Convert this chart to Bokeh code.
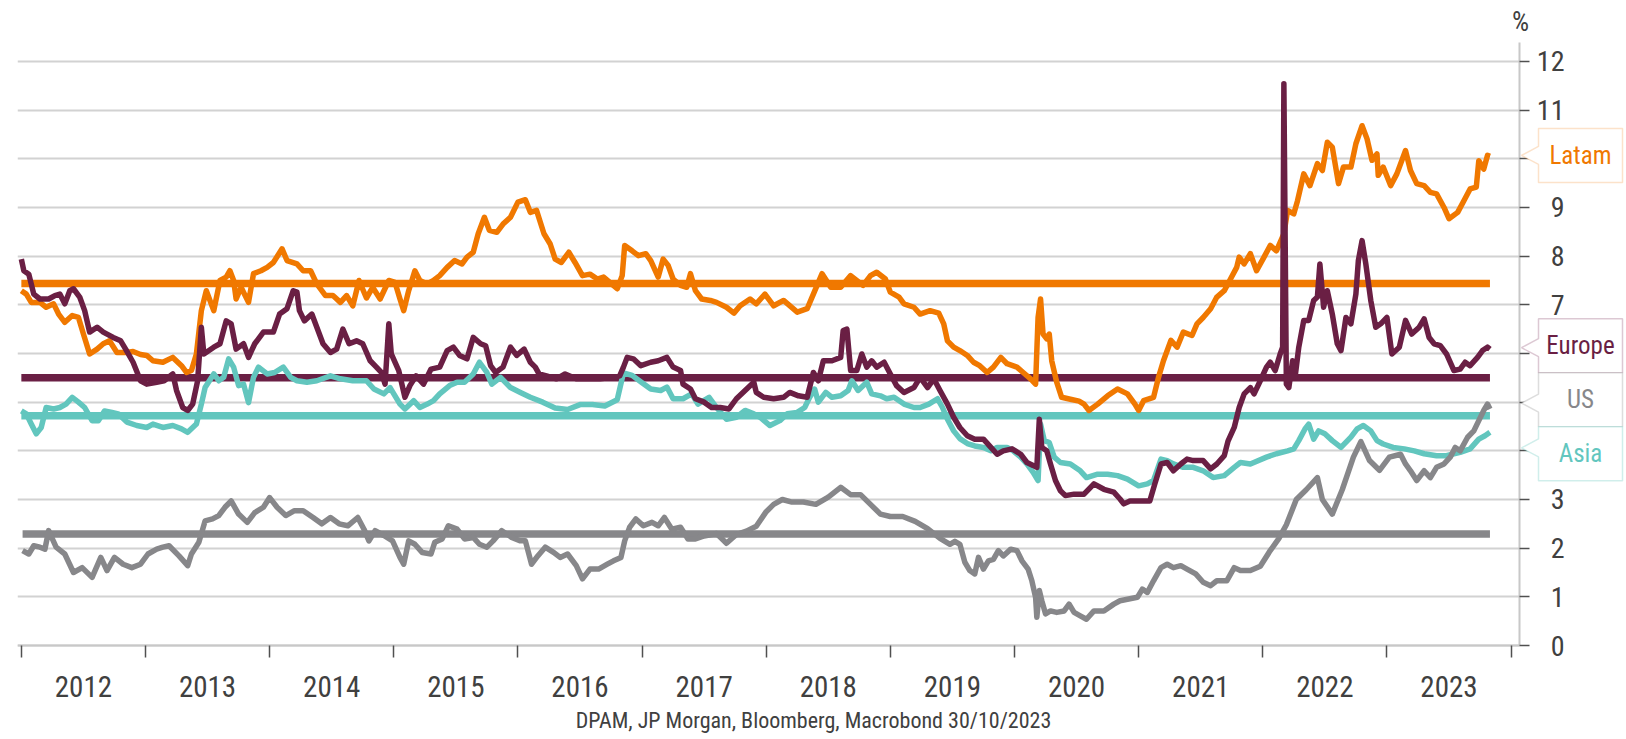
from bokeh.plotting import figure
from bokeh.models import FixedTicker, Label, PolyAnnotation, Range1d, LinearAxis, Grid
from bokeh.embed import file_html
from bokeh.resources import INLINE

# ---------------- data (decimal years, % yield) ----------------
latam_t = [2012.00, 2012.04, 2012.08, 2012.15, 2012.20, 2012.26, 2012.30, 2012.35, 2012.41, 2012.46,
           2012.50, 2012.55, 2012.61, 2012.66, 2012.71, 2012.77, 2012.85, 2012.90, 2012.96, 2013.01,
           2013.06, 2013.14, 2013.22, 2013.29, 2013.33, 2013.37, 2013.41, 2013.45, 2013.49, 2013.55,
           2013.60, 2013.65, 2013.68, 2013.71, 2013.73, 2013.77, 2013.83, 2013.87, 2013.93, 2013.98,
           2014.03, 2014.10, 2014.14, 2014.22, 2014.27, 2014.33, 2014.38, 2014.45, 2014.51, 2014.57,
           2014.62, 2014.67, 2014.72, 2014.78, 2014.83, 2014.89, 2014.96, 2015.01, 2015.05, 2015.08,
           2015.12, 2015.17, 2015.21, 2015.27, 2015.32, 2015.37, 2015.43, 2015.49, 2015.55, 2015.59,
           2015.64, 2015.68, 2015.73, 2015.77, 2015.83, 2015.88, 2015.94, 2015.96, 2016.00, 2016.06,
           2016.10, 2016.15, 2016.21, 2016.26, 2016.30, 2016.35, 2016.41, 2016.46, 2016.52, 2016.58,
           2016.64, 2016.69, 2016.74, 2016.80, 2016.84, 2016.86, 2016.92, 2016.97, 2017.03, 2017.07,
           2017.13, 2017.17, 2017.21, 2017.25, 2017.31, 2017.36, 2017.39, 2017.43, 2017.48, 2017.55,
           2017.60, 2017.68, 2017.74, 2017.79, 2017.87, 2017.92, 2017.99, 2018.06, 2018.14, 2018.25,
           2018.33, 2018.38, 2018.45, 2018.52, 2018.60, 2018.68, 2018.78, 2018.84, 2018.89, 2018.96,
           2019.00, 2019.07, 2019.11, 2019.19, 2019.24, 2019.32, 2019.39, 2019.43, 2019.46, 2019.51,
           2019.56, 2019.62, 2019.67, 2019.72, 2019.78, 2019.83, 2019.89, 2019.94, 2020.02, 2020.07,
           2020.13, 2020.17, 2020.19, 2020.21, 2020.23, 2020.26, 2020.28, 2020.30, 2020.34, 2020.38,
           2020.45, 2020.52, 2020.56, 2020.60, 2020.67, 2020.75, 2020.83, 2020.91, 2020.97, 2021.00,
           2021.04, 2021.12, 2021.16, 2021.20, 2021.26, 2021.31, 2021.36, 2021.43, 2021.47, 2021.52,
           2021.58, 2021.63, 2021.69, 2021.74, 2021.79, 2021.81, 2021.85, 2021.90, 2021.95, 2022.01,
           2022.06, 2022.11, 2022.17, 2022.20, 2022.25, 2022.28, 2022.33, 2022.38, 2022.44, 2022.48,
           2022.52, 2022.56, 2022.61, 2022.65, 2022.71, 2022.75, 2022.80, 2022.84, 2022.88, 2022.92,
           2022.93, 2022.97, 2023.03, 2023.08, 2023.15, 2023.19, 2023.24, 2023.30, 2023.35, 2023.40,
           2023.46, 2023.50, 2023.57, 2023.62, 2023.67, 2023.72, 2023.74, 2023.78, 2023.81, 2023.83]
latam_v = [7.29, 7.22, 7.05, 7.05, 6.95, 7.02, 6.81, 6.64, 6.78, 6.74,
           6.40, 5.99, 6.09, 6.20, 6.26, 6.02, 6.02, 6.04, 5.98, 5.96,
           5.85, 5.82, 5.92, 5.75, 5.61, 5.65, 5.99, 6.88, 7.29, 6.88,
           7.50, 7.57, 7.70, 7.50, 7.12, 7.36, 7.05, 7.64, 7.70, 7.77,
           7.87, 8.15, 7.91, 7.84, 7.70, 7.70, 7.43, 7.19, 7.19, 7.05,
           7.19, 6.98, 7.50, 7.14, 7.36, 7.12, 7.50, 7.46, 7.12, 6.88,
           7.29, 7.70, 7.50, 7.43, 7.50, 7.60, 7.77, 7.91, 7.84, 7.98,
           8.08, 8.46, 8.80, 8.53, 8.49, 8.66, 8.80, 8.90, 9.11, 9.16,
           8.90, 8.94, 8.46, 8.25, 7.94, 7.87, 8.08, 7.87, 7.60, 7.63,
           7.53, 7.57, 7.46, 7.33, 7.60, 8.22, 8.11, 8.01, 8.05, 7.91,
           7.57, 7.94, 7.81, 7.53, 7.40, 7.36, 7.64, 7.29, 7.12, 7.09,
           7.05, 6.95, 6.83, 6.98, 7.12, 7.02, 7.22, 6.98, 7.09, 6.85,
           6.92, 7.22, 7.64, 7.36, 7.36, 7.60, 7.40, 7.60, 7.67, 7.53,
           7.26, 7.16, 7.02, 6.95, 6.81, 6.88, 6.83, 6.61, 6.26, 6.13,
           6.06, 5.96, 5.82, 5.75, 5.61, 5.72, 5.92, 5.79, 5.72, 5.61,
           5.48, 5.37, 6.74, 7.12, 6.40, 6.30, 6.40, 5.85, 5.41, 5.10,
           5.06, 5.02, 4.96, 4.83, 4.96, 5.13, 5.27, 5.17, 4.96, 4.83,
           5.03, 5.10, 5.51, 5.85, 6.27, 6.13, 6.44, 6.37, 6.61, 6.74,
           6.92, 7.16, 7.29, 7.53, 7.77, 7.98, 7.84, 8.05, 7.70, 7.98,
           8.22, 8.11, 8.46, 8.94, 8.87, 9.14, 9.69, 9.45, 9.90, 9.76,
           10.34, 10.24, 9.49, 9.83, 9.83, 10.31, 10.68, 10.41, 9.97, 10.10,
           9.66, 9.83, 9.45, 9.69, 10.17, 9.76, 9.49, 9.45, 9.31, 9.28,
           9.00, 8.77, 8.90, 9.14, 9.38, 9.42, 9.96, 9.79, 10.07, 10.05]

europe_t = [2012.00, 2012.02, 2012.06, 2012.10, 2012.15, 2012.22, 2012.27, 2012.31, 2012.35, 2012.39,
            2012.42, 2012.47, 2012.51, 2012.55, 2012.61, 2012.66, 2012.74, 2012.80, 2012.84, 2012.90,
            2012.96, 2013.01, 2013.09, 2013.15, 2013.22, 2013.25, 2013.30, 2013.34, 2013.38, 2013.42,
            2013.45, 2013.47, 2013.55, 2013.60, 2013.65, 2013.69, 2013.73, 2013.79, 2013.83, 2013.88,
            2013.95, 2014.03, 2014.08, 2014.14, 2014.19, 2014.22, 2014.24, 2014.28, 2014.34, 2014.38,
            2014.43, 2014.49, 2014.54, 2014.59, 2014.64, 2014.70, 2014.75, 2014.81, 2014.86, 2014.90,
            2014.93, 2014.96, 2014.98, 2015.04, 2015.09, 2015.13, 2015.18, 2015.24, 2015.30, 2015.37,
            2015.43, 2015.48, 2015.53, 2015.59, 2015.64, 2015.70, 2015.74, 2015.78, 2015.82, 2015.88,
            2015.94, 2015.99, 2016.05, 2016.10, 2016.14, 2016.17, 2016.23, 2016.31, 2016.38, 2016.47,
            2016.56, 2016.66, 2016.77, 2016.82, 2016.85, 2016.88, 2016.93, 2016.99, 2017.07, 2017.13,
            2017.20, 2017.25, 2017.31, 2017.33, 2017.39, 2017.43, 2017.50, 2017.56, 2017.63, 2017.70,
            2017.76, 2017.83, 2017.90, 2017.92, 2017.98, 2018.06, 2018.14, 2018.19, 2018.26, 2018.33,
            2018.38, 2018.42, 2018.46, 2018.53, 2018.60, 2018.62, 2018.65, 2018.68, 2018.73, 2018.77,
            2018.81, 2018.85, 2018.89, 2018.95, 2019.00, 2019.05, 2019.11, 2019.19, 2019.24, 2019.30,
            2019.35, 2019.40, 2019.46, 2019.51, 2019.56, 2019.62, 2019.68, 2019.75, 2019.81, 2019.86,
            2019.91, 2019.98, 2020.05, 2020.10, 2020.15, 2020.18, 2020.20, 2020.22, 2020.26, 2020.29,
            2020.33, 2020.37, 2020.41, 2020.48, 2020.56, 2020.64, 2020.72, 2020.80, 2020.85, 2020.88,
            2020.93, 2021.01, 2021.09, 2021.13, 2021.18, 2021.23, 2021.28, 2021.34, 2021.39, 2021.44,
            2021.52, 2021.58, 2021.63, 2021.69, 2021.72, 2021.77, 2021.81, 2021.85, 2021.90, 2021.93,
            2021.98, 2022.03, 2022.06, 2022.10, 2022.14, 2022.16, 2022.17, 2022.19, 2022.21, 2022.24,
            2022.26, 2022.29, 2022.33, 2022.37, 2022.41, 2022.44, 2022.46, 2022.49, 2022.52, 2022.56,
            2022.60, 2022.63, 2022.67, 2022.71, 2022.75, 2022.77, 2022.80, 2022.83, 2022.87, 2022.91,
            2022.95, 2023.00, 2023.04, 2023.10, 2023.15, 2023.20, 2023.26, 2023.30, 2023.34, 2023.38,
            2023.43, 2023.48, 2023.54, 2023.59, 2023.63, 2023.67, 2023.73, 2023.77, 2023.81, 2023.83]
europe_v = [7.94, 7.70, 7.63, 7.22, 7.12, 7.12, 7.19, 7.22, 7.02, 7.29,
            7.33, 7.16, 6.88, 6.44, 6.54, 6.44, 6.33, 6.26, 6.09, 5.82,
            5.44, 5.37, 5.41, 5.44, 5.58, 5.24, 4.89, 4.83, 4.96, 5.44,
            6.54, 5.99, 6.13, 6.20, 6.67, 6.61, 6.09, 6.20, 5.92, 6.20,
            6.44, 6.44, 6.81, 6.92, 7.29, 7.26, 6.88, 6.67, 6.81, 6.54,
            6.20, 6.02, 6.09, 6.50, 6.20, 6.26, 6.20, 5.85, 5.72, 5.61,
            5.37, 6.61, 5.99, 5.65, 5.10, 5.34, 5.54, 5.37, 5.68, 5.72,
            6.06, 6.13, 5.96, 5.89, 6.33, 6.20, 6.16, 5.75, 5.61, 5.72,
            6.13, 5.96, 6.09, 5.82, 5.72, 5.58, 5.54, 5.48, 5.58, 5.48,
            5.48, 5.48, 5.51, 5.54, 5.72, 5.92, 5.89, 5.75, 5.82, 5.85,
            5.92, 5.72, 5.65, 5.37, 5.27, 5.07, 5.00, 4.89, 4.89, 4.86,
            5.07, 5.24, 5.41, 5.20, 5.10, 5.07, 5.10, 5.20, 5.13, 5.10,
            5.61, 5.44, 5.85, 5.85, 5.92, 6.47, 6.50, 5.65, 5.65, 5.99,
            5.72, 5.85, 5.72, 5.82, 5.58, 5.34, 5.20, 5.30, 5.51, 5.30,
            5.48, 5.24, 4.96, 4.69, 4.48, 4.31, 4.24, 4.24, 4.07, 3.93,
            4.00, 4.04, 3.93, 3.76, 3.70, 3.66, 4.65, 4.07, 4.00, 3.73,
            3.39, 3.18, 3.08, 3.11, 3.11, 3.32, 3.21, 3.15, 3.01, 2.91,
            2.97, 2.97, 2.97, 3.32, 3.73, 3.76, 3.59, 3.73, 3.83, 3.80,
            3.80, 3.63, 3.73, 3.90, 4.20, 4.48, 4.89, 5.17, 5.30, 5.17,
            5.44, 5.72, 5.82, 5.65, 5.99, 6.13, 11.54, 5.37, 5.30, 5.85,
            5.51, 6.13, 6.68, 6.68, 7.09, 7.16, 7.84, 6.95, 7.29, 6.81,
            6.20, 6.06, 6.74, 6.61, 7.22, 7.91, 8.32, 7.84, 7.09, 6.54,
            6.61, 6.74, 5.99, 6.13, 6.68, 6.40, 6.54, 6.71, 6.33, 6.20,
            6.16, 5.99, 5.65, 5.68, 5.82, 5.75, 5.92, 6.06, 6.13, 6.09]

us_t = [2012.01, 2012.06, 2012.10, 2012.15, 2012.19, 2012.22, 2012.28, 2012.35, 2012.42, 2012.49,
        2012.57, 2012.64, 2012.69, 2012.75, 2012.82, 2012.89, 2012.96, 2013.02, 2013.09, 2013.14,
        2013.19, 2013.27, 2013.34, 2013.37, 2013.43, 2013.48, 2013.54, 2013.59, 2013.64, 2013.69,
        2013.75, 2013.82, 2013.88, 2013.95, 2014.00, 2014.06, 2014.13, 2014.20, 2014.27, 2014.35,
        2014.42, 2014.49, 2014.56, 2014.63, 2014.71, 2014.76, 2014.80, 2014.85, 2014.92, 2014.99,
        2015.05, 2015.08, 2015.12, 2015.17, 2015.23, 2015.30, 2015.33, 2015.39, 2015.44, 2015.51,
        2015.57, 2015.64, 2015.69, 2015.75, 2015.80, 2015.87, 2015.95, 2016.02, 2016.06, 2016.11,
        2016.16, 2016.22, 2016.29, 2016.34, 2016.40, 2016.47, 2016.52, 2016.58, 2016.65, 2016.72,
        2016.77, 2016.83, 2016.86, 2016.90, 2016.95, 2017.01, 2017.08, 2017.13, 2017.18, 2017.24,
        2017.31, 2017.37, 2017.43, 2017.50, 2017.60, 2017.68, 2017.76, 2017.84, 2017.92, 2018.00,
        2018.06, 2018.13, 2018.20, 2018.30, 2018.40, 2018.50, 2018.60, 2018.68, 2018.76, 2018.84,
        2018.92, 2019.00, 2019.10, 2019.20, 2019.30, 2019.40, 2019.48, 2019.52, 2019.56, 2019.60,
        2019.64, 2019.68, 2019.71, 2019.75, 2019.79, 2019.83, 2019.87, 2019.91, 2019.97, 2020.02,
        2020.06, 2020.11, 2020.14, 2020.17, 2020.18, 2020.20, 2020.22, 2020.25, 2020.29, 2020.34,
        2020.40, 2020.44, 2020.48, 2020.53, 2020.58, 2020.64, 2020.72, 2020.80, 2020.85, 2020.91,
        2020.99, 2021.03, 2021.07, 2021.12, 2021.18, 2021.23, 2021.28, 2021.34, 2021.39, 2021.46,
        2021.52, 2021.58, 2021.63, 2021.71, 2021.77, 2021.82, 2021.90, 2021.98, 2022.06, 2022.13,
        2022.19, 2022.27, 2022.35, 2022.44, 2022.48, 2022.56, 2022.64, 2022.73, 2022.79, 2022.86,
        2022.94, 2023.02, 2023.11, 2023.15, 2023.19, 2023.24, 2023.30, 2023.35, 2023.40, 2023.46,
        2023.51, 2023.55, 2023.59, 2023.65, 2023.70, 2023.74, 2023.78, 2023.81, 2023.83]
us_v = [1.95, 1.88, 2.05, 2.02, 1.98, 2.36, 2.02, 1.88, 1.50, 1.60,
        1.40, 1.81, 1.54, 1.81, 1.67, 1.60, 1.67, 1.88, 1.98, 2.02,
        2.05, 1.84, 1.64, 1.88, 2.12, 2.56, 2.60, 2.67, 2.84, 2.97,
        2.70, 2.53, 2.73, 2.84, 3.04, 2.84, 2.67, 2.77, 2.77, 2.63,
        2.50, 2.63, 2.50, 2.46, 2.63, 2.39, 2.15, 2.36, 2.26, 2.15,
        1.81, 1.67, 2.15, 2.08, 1.91, 1.88, 2.12, 2.19, 2.46, 2.39,
        2.19, 2.22, 2.08, 2.02, 2.15, 2.36, 2.22, 2.15, 2.15, 1.67,
        1.84, 2.02, 1.91, 1.81, 1.88, 1.64, 1.37, 1.57, 1.57, 1.67,
        1.74, 1.81, 2.15, 2.43, 2.60, 2.46, 2.53, 2.46, 2.63, 2.39,
        2.43, 2.19, 2.19, 2.25, 2.30, 2.10, 2.28, 2.35, 2.45, 2.75,
        2.90, 3.00, 2.95, 2.95, 2.90, 3.05, 3.25, 3.10, 3.10, 2.90,
        2.70, 2.65, 2.65, 2.55, 2.40, 2.20, 2.08, 2.14, 2.08, 1.71,
        1.54, 1.47, 1.81, 1.57, 1.74, 1.77, 1.95, 1.84, 1.98, 1.95,
        1.74, 1.57, 1.33, 0.99, 0.58, 1.13, 0.92, 0.65, 0.71, 0.68,
        0.71, 0.85, 0.68, 0.61, 0.54, 0.71, 0.71, 0.85, 0.92, 0.95,
        0.99, 1.16, 1.09, 1.33, 1.60, 1.67, 1.60, 1.64, 1.57, 1.47,
        1.30, 1.23, 1.33, 1.33, 1.60, 1.54, 1.54, 1.63, 1.95, 2.20,
        2.48, 3.00, 3.20, 3.45, 3.00, 2.70, 3.20, 3.87, 4.19, 3.80,
        3.60, 3.87, 3.93, 3.73, 3.59, 3.39, 3.59, 3.45, 3.66, 3.73,
        3.87, 4.07, 4.00, 4.28, 4.41, 4.62, 4.83, 4.96, 4.86]

asia_t = [2012.00, 2012.04, 2012.08, 2012.12, 2012.16, 2012.20, 2012.26, 2012.31, 2012.36, 2012.41,
          2012.46, 2012.51, 2012.57, 2012.62, 2012.67, 2012.73, 2012.78, 2012.85, 2012.93, 2013.01,
          2013.06, 2013.14, 2013.22, 2013.29, 2013.34, 2013.41, 2013.45, 2013.48, 2013.55, 2013.59,
          2013.63, 2013.67, 2013.71, 2013.75, 2013.79, 2013.83, 2013.87, 2013.91, 2013.98, 2014.04,
          2014.11, 2014.17, 2014.22, 2014.30, 2014.38, 2014.49, 2014.57, 2014.67, 2014.78, 2014.84,
          2014.92, 2014.97, 2015.05, 2015.09, 2015.16, 2015.21, 2015.27, 2015.32, 2015.37, 2015.45,
          2015.51, 2015.57, 2015.64, 2015.69, 2015.75, 2015.79, 2015.86, 2015.94, 2016.02, 2016.10,
          2016.20, 2016.30, 2016.40, 2016.50, 2016.60, 2016.70, 2016.80, 2016.85, 2016.92, 2017.00,
          2017.07, 2017.15, 2017.20, 2017.25, 2017.33, 2017.40, 2017.45, 2017.54, 2017.60, 2017.68,
          2017.76, 2017.83, 2017.90, 2017.95, 2018.03, 2018.11, 2018.17, 2018.25, 2018.31, 2018.35,
          2018.39, 2018.42, 2018.48, 2018.53, 2018.60, 2018.66, 2018.69, 2018.74, 2018.81, 2018.85,
          2018.92, 2018.97, 2019.03, 2019.11, 2019.19, 2019.24, 2019.31, 2019.38, 2019.42, 2019.46,
          2019.51, 2019.56, 2019.62, 2019.68, 2019.75, 2019.81, 2019.86, 2019.94, 2019.99, 2020.05,
          2020.10, 2020.15, 2020.19, 2020.21, 2020.24, 2020.28, 2020.32, 2020.37, 2020.45, 2020.53,
          2020.58, 2020.67, 2020.75, 2020.83, 2020.91, 2021.00, 2021.07, 2021.12, 2021.18, 2021.23,
          2021.28, 2021.36, 2021.44, 2021.52, 2021.60, 2021.69, 2021.77, 2021.82, 2021.90, 2022.03,
          2022.11, 2022.20, 2022.25, 2022.29, 2022.34, 2022.37, 2022.41, 2022.45, 2022.50, 2022.56,
          2022.63, 2022.71, 2022.76, 2022.81, 2022.87, 2022.92, 2022.97, 2023.05, 2023.14, 2023.22,
          2023.30, 2023.40, 2023.48, 2023.59, 2023.67, 2023.74, 2023.79, 2023.83]
asia_v = [4.82, 4.76, 4.55, 4.35, 4.48, 4.89, 4.86, 4.89, 4.96, 5.10,
          5.00, 4.89, 4.62, 4.62, 4.82, 4.79, 4.76, 4.59, 4.52, 4.48,
          4.55, 4.48, 4.52, 4.45, 4.38, 4.55, 4.96, 5.30, 5.58, 5.44,
          5.51, 5.89, 5.72, 5.34, 5.37, 4.99, 5.51, 5.72, 5.58, 5.61,
          5.72, 5.51, 5.44, 5.41, 5.44, 5.54, 5.48, 5.44, 5.44, 5.27,
          5.17, 5.30, 4.96, 4.86, 5.03, 4.89, 4.96, 5.03, 5.17, 5.34,
          5.41, 5.41, 5.58, 5.82, 5.61, 5.37, 5.51, 5.30, 5.20, 5.10,
          5.00, 4.88, 4.85, 4.95, 4.95, 4.92, 5.05, 5.60, 5.55, 5.40,
          5.27, 5.24, 5.31, 5.07, 5.07, 5.17, 4.96, 5.10, 4.89, 4.65,
          4.69, 4.83, 4.76, 4.69, 4.52, 4.62, 4.76, 4.79, 4.89, 5.10,
          5.27, 5.00, 5.20, 5.10, 5.13, 5.24, 5.44, 5.24, 5.41, 5.17,
          5.13, 5.07, 5.10, 4.96, 4.89, 4.89, 4.96, 5.07, 4.89, 4.65,
          4.41, 4.25, 4.15, 4.10, 4.07, 4.00, 4.07, 4.07, 4.00, 3.87,
          3.73, 3.56, 3.39, 4.55, 4.21, 4.17, 3.87, 3.76, 3.73, 3.59,
          3.45, 3.52, 3.52, 3.49, 3.42, 3.28, 3.32, 3.39, 3.83, 3.80,
          3.73, 3.66, 3.66, 3.59, 3.45, 3.49, 3.66, 3.76, 3.73, 3.87,
          3.94, 4.00, 4.04, 4.21, 4.45, 4.55, 4.24, 4.41, 4.35, 4.21,
          4.07, 4.28, 4.45, 4.52, 4.41, 4.21, 4.14, 4.07, 4.04, 4.00,
          3.94, 3.90, 3.90, 3.97, 4.04, 4.24, 4.31, 4.38]

series_names = ["Latam", "Europe", "US", "Asia"]
series_colors = ["#F07800", "#6A1F44", "#87878A", "#62C6BE"]
box_border_colors = ["#F5A050", "#8C4A6C", "#8E8E90", "#62C6BE"]
averages = [7.44, 5.50, 2.29, 4.72]          # long-run means (horizontal lines)
callout_tip = [10.07, 6.12, 4.98, 4.06]      # value each label box points to
callout_center = [10.07, 6.16, 5.05, 3.94]   # vertical centre of each box
year_labels = [str(y) for y in range(2012, 2024)]
y_ticks = list(range(0, 13))
source_text = "DPAM, JP Morgan, Bloomberg, Macrobond 30/10/2023"

FONT = "Roboto Condensed"
TXT = "#404040"

# ---------------- layout (pixels) ----------------
W, H = 1624, 737
fl = 17                       # frame left
ax_x_px, ax_y_px = 1519, 645  # pixel position of the y axis line / x axis line
top_px = 42                   # top of the y axis line
x0, x_axis_end = 2011.969, 2024.068
y_axis_top = 12.39
sx = (x_axis_end - x0) / (ax_x_px - fl)
sy = y_axis_top / (ax_y_px - top_px)


def X(px):
    return x0 + (px - fl) * sx


def Y(py):
    return (ax_y_px - py) * sy


p = figure(width=W, height=H, output_backend="svg", toolbar_location=None,
           x_range=Range1d(x0, X(W)), y_range=Range1d(Y(H), Y(0)),
           x_axis_location=None, y_axis_location=None,
           min_border_left=fl, min_border_right=0,
           min_border_top=0, min_border_bottom=0)
p.outline_line_color = None
p.background_fill_color = "white"
p.border_fill_color = "white"
p.xgrid.visible = False
p.ygrid.visible = False

grid = Grid(dimension=1, ticker=FixedTicker(ticks=y_ticks),
            grid_line_color="#D2D2D2", grid_line_width=2,
            cross_bounds=(x0, x_axis_end))
p.add_layout(grid)

# x axis (years centred between yearly tick marks)
mids = [int(y) + 0.5 for y in year_labels]
bounds = [int(y) for y in year_labels] + [int(year_labels[-1]) + 1]
xa = LinearAxis(ticker=FixedTicker(ticks=mids, minor_ticks=bounds),
                fixed_location=0, bounds=(x0, x_axis_end))
xa.major_label_overrides = {m: lab for m, lab in zip(mids, year_labels)}
xa.major_tick_out = 0
xa.major_tick_in = 0
xa.minor_tick_in = 12
xa.minor_tick_out = 0
xa.minor_tick_line_color = "#505050"
xa.minor_tick_line_width = 1.5
xa.axis_line_color = "#C8C8C8"
xa.axis_line_width = 2
xa.major_label_standoff = -51
xa.major_label_text_font = FONT
xa.major_label_text_font_size = "29px"
xa.major_label_text_color = TXT
p.add_layout(xa, "above")

# y axis (line at the right end of the data, labels to its right)
ya = LinearAxis(ticker=FixedTicker(ticks=y_ticks), fixed_location=x_axis_end,
                bounds=(0, y_axis_top))
ya.major_tick_in = 10
ya.major_tick_out = 0
ya.minor_tick_out = 0
ya.minor_tick_in = 0
ya.major_tick_line_color = "#505050"
ya.major_tick_line_width = 1.5
ya.axis_line_color = "#C8C8C8"
ya.axis_line_width = 2
ya.major_label_standoff = -45
ya.major_label_text_font = FONT
ya.major_label_text_font_size = "28px"
ya.major_label_text_color = TXT
ya.major_label_overrides = {4: "", 5: "", 6: "", 10: ""}
p.add_layout(ya, "left")

all_t = [latam_t, europe_t, us_t, asia_t]
all_v = [latam_v, europe_v, us_v, asia_v]

for t, avg, col in zip(all_t, averages, series_colors):
    p.line([t[0], t[-1]], [avg, avg], line_color=col, line_width=7.5, line_cap="butt")

for idx in [0, 3, 1, 2]:
    p.line(all_t[idx], all_v[idx], line_color=series_colors[idx], line_width=5.5,
           line_join="round")

# callout boxes
half_h = 27 * sy
notch = 9 * sy
bx0, bx1, tipx = X(1538), X(1622), X(1521)
for name, tip, cen, col, bcol in zip(series_names, callout_tip, callout_center,
                                     series_colors, box_border_colors):
    xs = [tipx, bx0, bx0, bx1, bx1, bx0, bx0]
    ys = [tip, tip - notch, cen - half_h, cen - half_h, cen + half_h, cen + half_h, tip + notch]
    p.add_layout(PolyAnnotation(xs=xs, ys=ys, fill_color="white", fill_alpha=1.0,
                                line_color=bcol, line_width=1.5))
    p.add_layout(Label(x=(bx0 + bx1) / 2, y=cen, text=name, text_align="center",
                       text_baseline="middle", text_font=FONT,
                       text_font_size="25px", text_color=col))

p.add_layout(Label(x=X(1520), y=Y(21), text="%", text_align="center",
                   text_baseline="middle", text_font=FONT,
                   text_font_size="27px", text_color=TXT))

p.add_layout(Label(x=X(813), y=Y(720), text=source_text,
                   text_align="center", text_baseline="middle",
                   text_font=FONT, text_font_size="22px", text_color=TXT))

open("out.html", "w").write(file_html(p, INLINE))
